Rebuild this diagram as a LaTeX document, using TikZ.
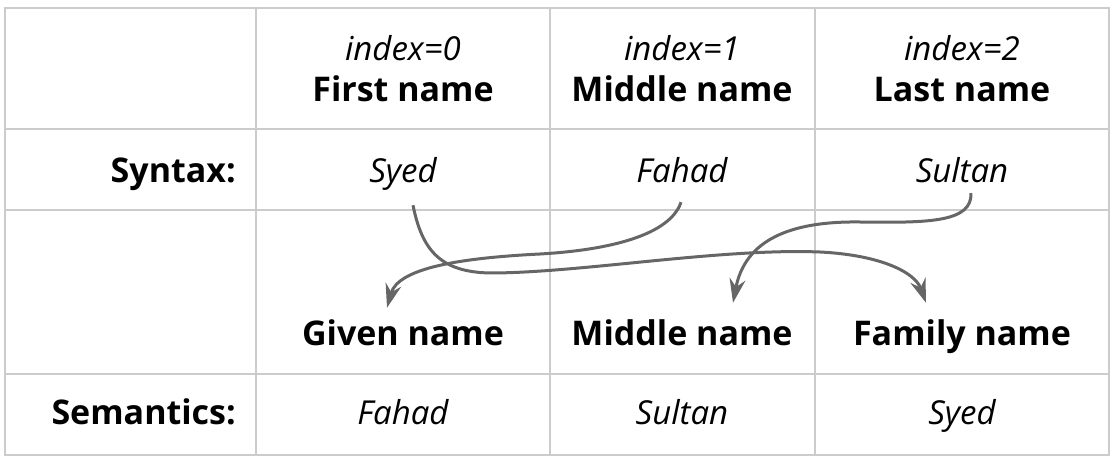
\documentclass[tikz,border=0pt]{standalone}
\usepackage{fontspec}
\setmainfont{Open Sans}
\usetikzlibrary{arrows.meta}
\definecolor{gridc}{HTML}{CCCCCC}
\definecolor{arrc}{HTML}{666666}
\begin{document}
\begin{tikzpicture}[x=1pt,y=-1pt,
 grid/.style={draw=gridc,line width=2.5pt},
 bl/.style={font=\fontsize{34}{34}\selectfont\bfseries, anchor=base, inner sep=0pt, text height=24pt, text depth=7pt},
 it/.style={font=\fontsize{33}{33}\selectfont\itshape, anchor=base, inner sep=0pt, text height=24pt, text depth=7pt},
 lab/.style={font=\fontsize{34}{34}\selectfont\bfseries, anchor=base east, inner sep=0pt},
 link/.style={draw=arrc, line width=3pt, -{Stealth[length=24pt,width=16pt,inset=8pt]}}]
\useasboundingbox (0,0) rectangle (1116,462);
% grid
\draw[grid] (5,8) rectangle (1109,455);
\foreach \x in {256,550,815} \draw[grid] (\x,8) -- (\x,455);
\foreach \y in {129,210,374} \draw[grid] (5,\y) -- (1109,\y);
% header
\node[it] (i0) at (403,61) {index=0};
\node[it] (i1) at (682,61) {index=1};
\node[it] (i2) at (962,61) {index=2};
\node[bl] (h0) at (403,102) {First name};
\node[bl] (h1) at (682,102) {Middle name};
\node[bl] (h2) at (962,102) {Last name};
% syntax row
\node[lab] (syn) at (236,183) {Syntax:};
\node[it] (syn1) at (403,183) {Syed};
\node[it] (syn2) at (682,183) {Fahad};
\node[it] (syn3) at (962,183) {Sultan};
% semantic headings
\node[bl] (giv) at (403,345) {Given name};
\node[bl] (mid) at (682,345) {Middle name};
\node[bl] (fam) at (962,345) {Family name};
% semantics row
\node[lab] (sem) at (236,424) {Semantics:};
\node[it] (sem1) at (403,424) {Fahad};
\node[it] (sem2) at (682,424) {Sultan};
\node[it] (sem3) at (962,424) {Syed};
% connectors
\draw[link] ([xshift=10pt,yshift=-15pt]syn1.south) .. controls (422,250) and (440,272) .. (490,273)
  .. controls (580,273) and (720,248) .. (820,252)
  .. controls (880,255) and (915,272) .. ([xshift=-36pt,yshift=18pt]fam.north);
\draw[link] ([xshift=-1pt,yshift=-12pt]syn2.south) .. controls (670,235) and (610,250) .. (540,254)
  .. controls (460,258) and (398,268) .. ([xshift=-16pt,yshift=13pt]giv.north);
\draw[link] ([xshift=9pt,yshift=-3pt]syn3.south) .. controls (972,222) and (930,223) .. (860,222)
  .. controls (790,221) and (745,240) .. ([xshift=51pt,yshift=18pt]mid.north);
\end{tikzpicture}
\end{document}
